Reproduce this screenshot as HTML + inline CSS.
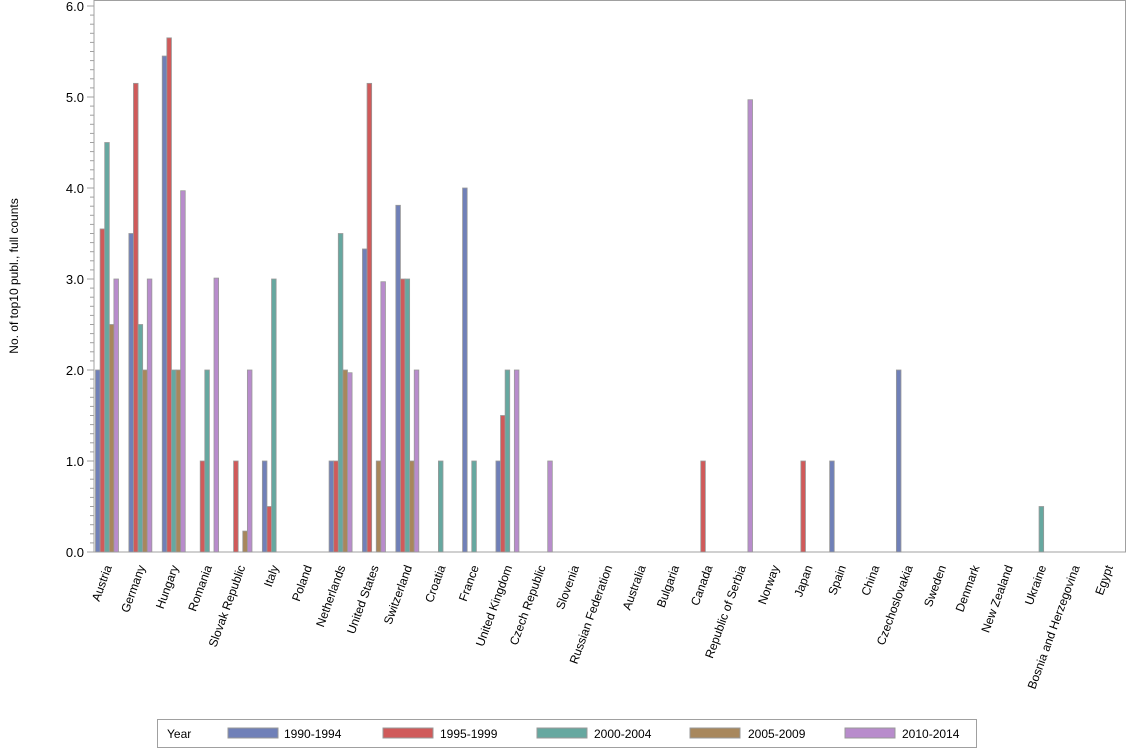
<!DOCTYPE html>
<html><head><style>
body{margin:0;background:#fff;}
svg{display:block;font-family:"Liberation Sans",sans-serif;}
</style></head><body>
<svg id="s" width="1134" height="756" xmlns="http://www.w3.org/2000/svg">
<rect x="0" y="0" width="1134" height="756" fill="#fff"/>
<rect x="94" y="0.5" width="1031.5" height="551.5" fill="none" stroke="#a0a0a0"/>
<text transform="translate(18,276) rotate(-90)" text-anchor="middle" font-size="12" fill="#000">No. of top10 publ., full counts</text>
<g id="g"></g>
<rect x="157.5" y="719.5" width="819" height="28" fill="#fff" stroke="#a0a0a0"/>
<text x="167" y="738" font-size="12">Year</text>
<rect x="228" y="728" width="50" height="10" fill="#7080b8" stroke="#999"/><text x="284" y="738" font-size="12">1990-1994</text>
<rect x="383" y="728" width="50" height="10" fill="#d05a5a" stroke="#999"/><text x="440" y="738" font-size="12">1995-1999</text>
<rect x="537" y="728" width="50" height="10" fill="#66a8a0" stroke="#999"/><text x="594" y="738" font-size="12">2000-2004</text>
<rect x="690" y="728" width="50" height="10" fill="#a8875c" stroke="#999"/><text x="748" y="738" font-size="12">2005-2009</text>
<rect x="845" y="728" width="50" height="10" fill="#b88ccc" stroke="#999"/><text x="902" y="738" font-size="12">2010-2014</text>
</svg>
<script>
var g=document.getElementById('g'),h='';
var Z=552,U=91;
for(var i=0;i<=60;i++){var y=Z-i*U/10;var L=(i%10==0)?7:4;h+='<line x1="'+(94-L)+'" x2="94" y1="'+y+'" y2="'+y+'" stroke="#a0a0a0"/>';
if(i%10==0)h+='<text x="84" y="'+(y+5)+'" text-anchor="end" font-size="13">'+(i/10).toFixed(1)+'</text>';}
var names=["Austria","Germany","Hungary","Romania","Slovak Republic","Italy","Poland","Netherlands","United States","Switzerland","Croatia","France","United Kingdom","Czech Republic","Slovenia","Russian Federation","Australia","Bulgaria","Canada","Republic of Serbia","Norway","Japan","Spain","China","Czechoslovakia","Sweden","Denmark","New Zealand","Ukraine","Bosnia and Herzegovina","Egypt"];
var d={0:[2,3.55,4.5,2.5,3],1:[3.5,5.15,2.5,2,3],2:[5.45,5.65,2,2,3.97],3:[0,1,2,0,3.01],4:[0,1,0,0.23,2],5:[1,0.5,3,0,0],7:[1,1,3.5,2,1.97],8:[3.33,5.15,0,1,2.97],9:[3.81,3,3,1,2],10:[0,0,1,0,0],11:[4,0,1,0,0],12:[1,1.5,2,0,2],13:[0,0,0,0,1],18:[0,1,0,0,0],19:[0,0,0,0,4.97],21:[0,1,0,0,0],22:[1,0,0,0,0],24:[2,0,0,0,0],28:[0,0,0.5,0,0]};
var c=["#7080b8","#d05a5a","#66a8a0","#a8875c","#b88ccc"];
for(var k=0;k<31;k++){var x0=95.5+k*33.37;var cx=x0+11.5;
if(d[k])for(var j=0;j<5;j++){var v=d[k][j];if(v>0){var hh=v*U;h+='<rect x="'+(x0+j*4.6)+'" y="'+(Z-hh)+'" width="4.6" height="'+hh+'" fill="'+c[j]+'" stroke="#999" stroke-width="0.8"/>';}}
h+='<text transform="translate('+(cx+5)+',567) rotate(-70)" text-anchor="end" font-size="12">'+names[k]+'</text>';}
g.innerHTML=h;
</script>
</body></html>
